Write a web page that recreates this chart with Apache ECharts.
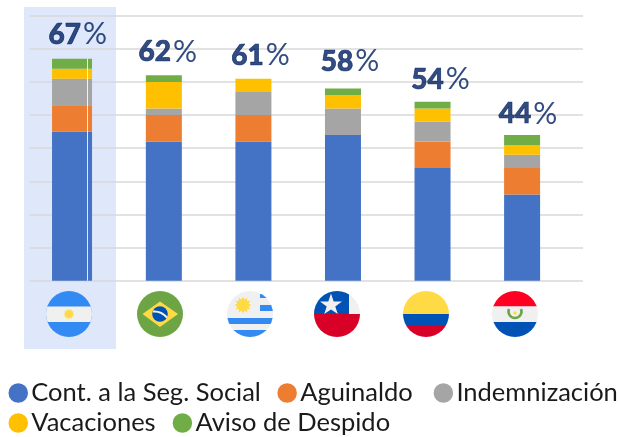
<!DOCTYPE html>
<html>
<head>
<meta charset="utf-8">
<script src="https://cdn.jsdelivr.net/npm/echarts@6/dist/echarts.min.js"></script>
<style>
  html, body { margin: 0; padding: 0; background: #fff; }
  #chart-container { width: 618px; height: 437px; }
</style>
</head>
<body>
<div id="chart-container"></div>
<script>
const paises = ["Argentina", "Brasil", "Uruguay", "Chile", "Colombia", "Paraguay"];
const contSegSocial = [45, 42, 42, 44, 34, 26];
const aguinaldo = [8, 8, 8, 0, 8, 8];
const indemnizacion = [8, 2, 7, 8, 6, 4];
const vacaciones = [3, 8, 4, 4, 4, 3];
const avisoDespido = [3, 2, 0, 2, 2, 3];
const totales = [67, 62, 61, 58, 54, 44];

const componentes = [
  { name: "Cont. a la Seg. Social", data: contSegSocial, color: "#4472C4", hueco: 16.5 },
  { name: "Aguinaldo", data: aguinaldo, color: "#ED7D31", hueco: 21 },
  { name: "Indemnización", data: indemnizacion, color: "#A5A5A5", hueco: 0 },
  { name: "Vacaciones", data: vacaciones, color: "#FFC000", hueco: 17 },
  { name: "Aviso de Despido", data: avisoDespido, color: "#70AD47", hueco: 0 },
];

// Ajuste de cada etiqueta respecto a su barra (en px)
const desfaseEtiquetas = [[3.5, -9], [4, -8], [7, -8], [7, -12], [8, -7], [6, -6]];

function disco(contenido) {
  return (
    '<svg xmlns="http://www.w3.org/2000/svg" width="46" height="46" viewBox="0 0 46 46">' +
    '<defs><clipPath id="c"><circle cx="23" cy="23" r="23"/></clipPath></defs>' +
    '<g clip-path="url(#c)">' + contenido + "</g></svg>"
  );
}

function sol(x, y, r, color) {
  let puntos = [];
  for (let i = 0; i < 24; i++) {
    const radio = i % 2 ? r * 0.68 : r;
    const ang = (i * Math.PI) / 12;
    puntos.push((x + radio * Math.cos(ang)).toFixed(2) + "," + (y + radio * Math.sin(ang)).toFixed(2));
  }
  return '<polygon fill="' + color + '" points="' + puntos.join(" ") + '"/>';
}

const banderas = [
  disco(
    '<rect width="46" height="46" fill="#338AF3"/><rect y="15.5" width="46" height="15.5" fill="#F0F0F0"/>' +
      sol(23, 23, 5.5, "#FFDA44")
  ),
  disco(
    '<rect width="46" height="46" fill="#6DA544"/><polygon points="23,10.5 41,23 23,36 5.5,23" fill="#FFDA44"/>' +
      '<circle cx="23" cy="23" r="7.8" fill="#0052B4"/>' +
      '<path d="M16 20.5 C21 20 26 22 30 26.5" stroke="#F0F0F0" stroke-width="2" fill="none"/>'
  ),
  disco(
    '<rect width="46" height="46" fill="#F0F0F0"/>' +
      '<rect x="33" y="3" width="14" height="4" fill="#338AF3"/><rect x="33" y="14" width="14" height="6" fill="#338AF3"/>' +
      '<rect y="27" width="46" height="6" fill="#338AF3"/><rect y="39" width="46" height="7" fill="#338AF3"/>' +
      sol(16, 14, 8.5, "#FFDA44")
  ),
  disco(
    '<rect width="46" height="46" fill="#F0F0F0"/><rect width="35" height="23" fill="#0052B4"/>' +
      '<rect y="23" width="46" height="23" fill="#D80027"/>' +
      '<polygon fill="#F0F0F0" points="17,3.5 19.7,11.5 28,11.5 21.3,16.4 23.8,24 17,19.4 10.2,24 12.7,16.4 6,11.5 14.3,11.5" transform="translate(0,-1)"/>'
  ),
  disco(
    '<rect width="46" height="23" fill="#FFDA44"/><rect y="23" width="46" height="12" fill="#0052B4"/>' +
      '<rect y="35" width="46" height="11" fill="#D80027"/>'
  ),
  disco(
    '<rect width="46" height="15.5" fill="#FF0022"/><rect y="15.5" width="46" height="15.5" fill="#F0F0F0"/>' +
      '<rect y="31" width="46" height="15" fill="#0052B4"/>' +
      '<path d="M17 18 A6.5 6.5 0 1 0 29 18" stroke="#6DA544" stroke-width="2.6" fill="none"/>' +
      '<circle cx="23" cy="22" r="1.8" fill="#FFDA44"/>'
  ),
];
const centrosBanderas = [69, 160, 250, 337, 426, 515];

const series = [];
componentes.forEach((comp) => {
  // valor primero: ECharts apila sobre la primera dimension numerica
  series.push({
    name: comp.name,
    type: "bar",
    stack: "resto",
    barWidth: 36,
    encode: { x: 1, y: 0 },
    itemStyle: { color: comp.color },
    data: comp.data.map((v, i) => [v, i]).slice(1),
    z: 3,
  });
  // Argentina va un poco mas ancha y desplazada
  const argentina = {
    name: comp.name,
    type: "bar",
    stack: "argentina",
    xAxisIndex: 1,
    barWidth: 40,
    encode: { x: 1, y: 0 },
    itemStyle: { color: comp.color },
    data: [[comp.data[0], 0]],
    z: 3,
  };
  if (comp.data === contSegSocial) {
    argentina.markLine = {
      silent: true,
      symbol: "none",
      label: { show: false },
      lineStyle: { color: "#ffffff", type: "solid", width: 1, opacity: 0.85 },
      data: [[{ coord: [0.172, 0] }, { coord: [0.172, totales[0]] }]],
    };
  }
  series.push(argentina);
});

series.push({
  type: "scatter",
  symbolSize: 0,
  silent: true,
  data: totales.map((v, i) => ({
    value: [i, v],
    label: { offset: desfaseEtiquetas[i] },
  })),
  label: {
    show: true,
    position: "top",
    distance: 0,
    formatter: (p) => "{n|" + p.value[1] + "}{p|%}",
    rich: {
      n: {
        fontFamily: "Lato",
        fontSize: 28,
        fontWeight: 900,
        color: "#002060",
        textBorderColor: "#002060",
        textBorderWidth: 0.7,
      },
      p: { fontFamily: "Lato", fontSize: 30, fontWeight: 400, color: "#002060", padding: [0, 0, 0, 2] },
    },
  },
  z: 5,
});

const option = {
  animation: false,
  backgroundColor: "#ffffff",
  grid: { left: 29.5, right: 35, top: 15.7, bottom: 156.3 },
  xAxis: [
    { type: "value", min: -0.5, max: 5.68, show: false },
    { type: "value", min: -0.475, max: 5.705, show: false },
  ],
  yAxis: {
    type: "value",
    min: 0,
    max: 80,
    interval: 10,
    axisLine: { show: false },
    axisTick: { show: false },
    axisLabel: { show: false },
    splitLine: { lineStyle: { color: "#D9D9D9", width: 1.5 } },
  },
  legend: {
    left: 8.5,
    top: 378,
    padding: 0,
    width: 640,
    itemWidth: 16,
    itemHeight: 16,
    itemGap: 0,
    icon: "circle",
    // el borde agranda el circulo
    data: componentes.map((c) => ({
      name: c.name,
      itemStyle: { color: c.color, borderColor: c.color, borderWidth: 3.5 },
      textStyle: { padding: [0, c.hueco, 0, 0] },
    })),
    textStyle: {
      fontFamily: "Lato",
      fontSize: 25.5,
      color: "#1a1a1a",
      lineHeight: 30,
    },
  },
  graphic: [
    {
      type: "rect",
      z: -1,
      shape: { x: 24, y: 7, width: 92, height: 342 },
      style: { fill: "#DFE8FA" },
    },
  ].concat(
    banderas.map((svg, i) => ({
      type: "image",
      z: 10,
      style: {
        image: "data:image/svg+xml;charset=utf-8," + encodeURIComponent(svg),
        x: centrosBanderas[i] - 23,
        y: 291,
        width: 46,
        height: 46,
      },
    }))
  ),
  series: series,
};

const dom = document.getElementById("chart-container");
const myChart = echarts.init(dom, null, { renderer: "canvas" });
myChart.setOption(option, true);
</script>
</body>
</html>
